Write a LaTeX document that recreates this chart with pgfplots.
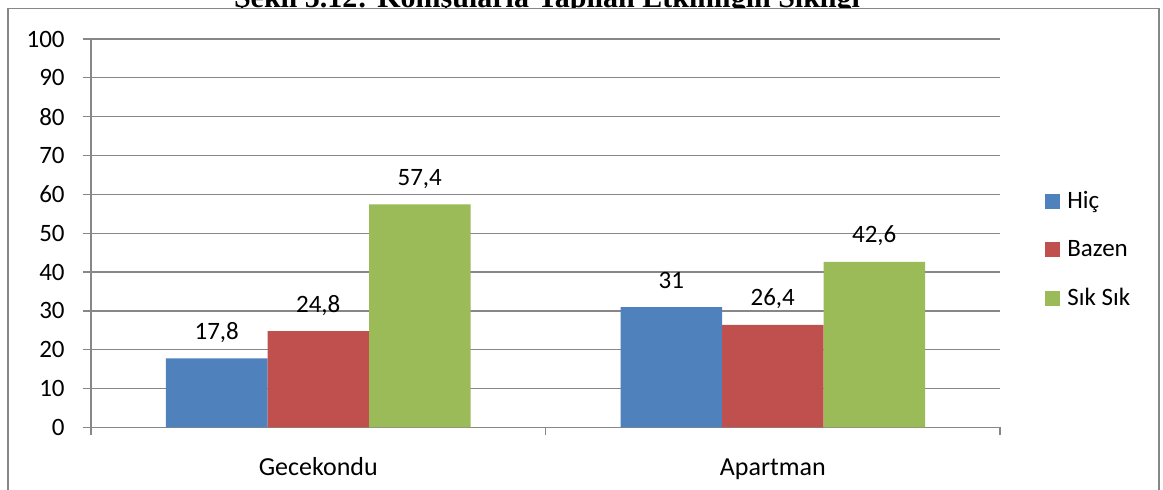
\documentclass[border=0pt]{standalone}
\usepackage{fontspec}
\setmainfont{Carlito}
\newfontfamily\titlefont{Liberation Serif}
\usepackage{pgfplots}
\pgfplotsset{compat=1.18}
\definecolor{cHic}{HTML}{4F81BD}
\definecolor{cBaz}{HTML}{C0504D}
\definecolor{cSik}{HTML}{9BBB59}
\definecolor{gridc}{HTML}{878787}
\begin{document}
\fontsize{12.5pt}{15pt}\selectfont
\begin{tikzpicture}[x=0.5pt,y=-0.5pt]
\useasboundingbox (0,0) rectangle (1163,490);
\node[anchor=base, inner sep=0pt, font=\titlefont\bfseries\fontsize{15pt}{17pt}\selectfont] at (547,7.5) {Şekil 5.12: Komşularla Yapılan Etkinliğin Sıklığı};
\draw[gridc, line width=0.9pt, fill=white] (8,8.5) rectangle (1159,520);
\begin{axis}[
  at={(45.5pt,-213.75pt)}, anchor=south west,
  scale only axis, width=454.5pt, height=194.25pt,
  ymin=0, ymax=100, xmin=-0.5, xmax=1.5,
  ytick={0,10,...,100},
  xtick={0,1}, xticklabels={Gecekondu,Apartman},
  minor xtick={-0.5,0.5,1.5},
  every major x tick/.style={draw=none},
  minor tick length=4pt, major tick length=4pt,
  tick align=outside,
  axis lines*=left,
  axis line style={gridc, line width=0.6pt},
  every tick/.append style={gridc, line width=0.6pt},
  every minor x tick/.append style={gridc, line width=0.6pt},
  ymajorgrids, grid style={gridc, line width=0.6pt},
  /pgf/number format/assume math mode=true,
  yticklabel style={anchor=east, inner sep=0pt, xshift=-9pt},
  xticklabel style={anchor=base, inner sep=0pt, yshift=-20.25pt, font=\fontsize{13pt}{15pt}\selectfont},
  ybar=0pt, bar width=50.75pt,
  nodes near coords={\pgfmathprintnumber[use comma, fixed, precision=1]{\pgfplotspointmeta}},
  every node near coord/.append style={anchor=base, inner sep=0pt, yshift=9.5pt, font=\fontsize{12.5pt}{15pt}\selectfont},
  legend style={at={(1.0495,0.457)}, anchor=west, draw=none, fill=none, inner sep=0pt,
    row sep=14pt, font=\fontsize{12.5pt}{15pt}\selectfont,
    nodes={inner sep=0pt, anchor=west}},
  legend cell align=left,
  legend image code/.code={\fill[#1] (0pt,-3.75pt) rectangle (7.5pt,3.75pt);},
]
\addplot[fill=cHic, draw=none] coordinates {(0,17.8) (1,31)};
\addplot[fill=cBaz, draw=none] coordinates {(0,24.8) (1,26.4)};
\addplot[fill=cSik, draw=none] coordinates {(0,57.4) (1,42.6)};
\legend{\hspace{3.5pt}Hiç,\hspace{3.5pt}Bazen,\hspace{3.5pt}Sık Sık}
\end{axis}
\end{tikzpicture}
\end{document}
